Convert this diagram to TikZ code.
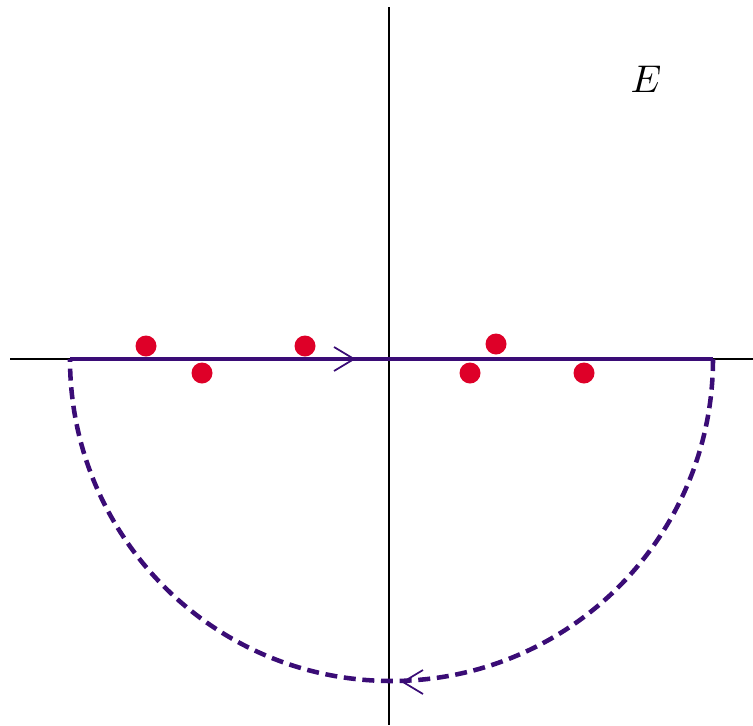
\documentclass[tikz,border=0pt]{standalone}
\usepackage{amsmath}
\usepackage{tikz}
\usetikzlibrary{calc}

\definecolor{contourpurple}{RGB}{58,12,118}
\definecolor{polered}{RGB}{222,0,40}

\begin{document}
\begin{tikzpicture}[x=0.75pt,y=0.75pt,yscale=-1,xscale=1,
  axisline/.style={line width=1pt},
  contour/.style={color=contourpurple,line width=3.4pt},
  arrowhead/.style={color=contourpurple,line width=1.3pt},
  pole/.style={fill=polered,draw=none}]
\useasboundingbox (0,0) rectangle (753,725);

%Coordinates
\coordinate (O) at (389,359);
\coordinate (L) at (70,359);
\coordinate (R) at (713,359);

%Axes
\draw [axisline] (10,359) -- (753,359);
\draw [axisline] (389,7) -- (389,725);

%Contour (real line)
\draw [contour] (L) -- (R);
%Contour (lower half circle)
\draw [contour,dash pattern=on 9pt off 5pt] (R) arc [start angle=0,end angle=180,x radius=321.5,y radius=322];

%Arrow heads
\draw [arrowhead] (334,347) -- (354,359) -- (334,371);
\draw [arrowhead] (423,670) -- (403,682) -- (423,694);

%Poles
\fill [pole] (146,346) circle [radius=10.5];
\fill [pole] (202,373) circle [radius=10.5];
\fill [pole] (305,346) circle [radius=10.5];
\fill [pole] (496,344) circle [radius=10.5];
\fill [pole] (470,373) circle [radius=10.5];
\fill [pole] (584,373) circle [radius=10.5];

% Text Node
\node (lblE) [scale=2.9] at (646,79) {$E$};

\end{tikzpicture}
\end{document}
